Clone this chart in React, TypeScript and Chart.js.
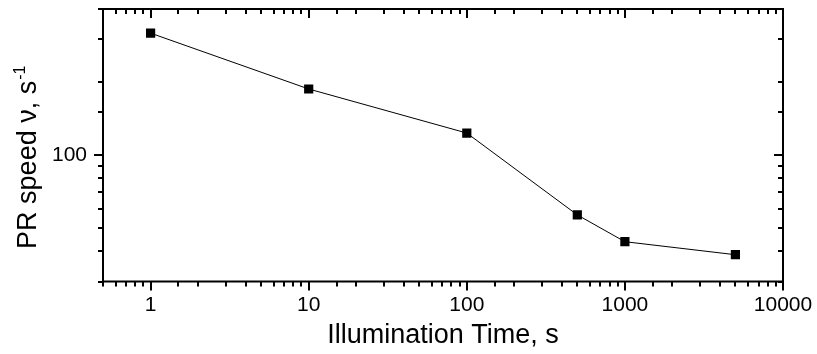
import React, { useEffect, useRef } from 'react';
import { Chart, registerables } from 'chart.js';

Chart.register(...registerables);

// ---- data ----
const illuminationTime = [1, 10, 100, 500, 1000, 5000];
const prSpeed = [318, 187, 123, 56.5, 43.8, 38.7];
const xLabelledTicks = [1, 10, 100, 1000, 10000];
const yLabelledTicks = [100];
const xRange = [0.5, 10000];
const yRange = [30, 400];
const xTitle = 'Illumination Time, s';
const yTitleMain = 'PR speed \u03bd, s';
const yTitleSup = '-1';

const FONT = '"Liberation Sans", Arial, Helvetica, sans-serif';

function isDecade(v: number) {
  const l = Math.log10(v);
  return Math.abs(l - Math.round(l)) < 1e-9;
}

function near(list: number[], v: number) {
  return list.some((t) => Math.abs(t - v) / t < 1e-9);
}

const framePlugin = {
  id: 'originFrame',
  afterDatasetsDraw(chart: any) {
    const { ctx, chartArea: a, scales } = chart;
    const xs = scales.x;
    const ys = scales.y;
    ctx.save();
    ctx.strokeStyle = '#000';
    ctx.lineWidth = 2;
    ctx.strokeRect(a.left, a.top, a.right - a.left, a.bottom - a.top);
    ctx.beginPath();
    for (const t of xs.ticks) {
      const px = Math.round(xs.getPixelForValue(t.value));
      const len = isDecade(t.value) ? 9 : 5;
      ctx.moveTo(px, a.bottom);
      ctx.lineTo(px, a.bottom + len);
      ctx.moveTo(px, a.top);
      ctx.lineTo(px, a.top + len);
    }
    for (const t of ys.ticks) {
      const py = Math.round(ys.getPixelForValue(t.value));
      const len = isDecade(t.value) ? 9 : 5;
      ctx.moveTo(a.left, py);
      ctx.lineTo(a.left - len, py);
      ctx.moveTo(a.right, py);
      ctx.lineTo(a.right - len, py);
    }
    ctx.stroke();

    // y-axis title with superscript
    ctx.fillStyle = '#000';
    ctx.font = `27px ${FONT}`;
    const w1 = ctx.measureText(yTitleMain).width;
    ctx.font = `16px ${FONT}`;
    const w2 = ctx.measureText(yTitleSup).width;
    const total = w1 + w2 + 1;
    const cy = (a.top + a.bottom) / 2 + 12;
    ctx.translate(36, cy);
    ctx.rotate(-Math.PI / 2);
    ctx.textAlign = 'left';
    ctx.textBaseline = 'alphabetic';
    ctx.font = `27px ${FONT}`;
    ctx.fillText(yTitleMain, -total / 2, 0);
    ctx.font = `16px ${FONT}`;
    ctx.fillText(yTitleSup, -total / 2 + w1 + 1, -11);
    ctx.restore();
  },
};

function zeroPadding(s: any) {
  s.paddingLeft = 0;
  s.paddingRight = 0;
  s.paddingTop = 0;
  s.paddingBottom = 0;
}

export default function App() {
  const ref = useRef<HTMLCanvasElement | null>(null);

  useEffect(() => {
    if (!ref.current) return;
    const chart = new Chart(ref.current, {
      type: 'line',
      data: {
        datasets: [
          {
            data: illuminationTime.map((x, i) => ({ x, y: prSpeed[i] })),
            borderColor: '#000',
            borderWidth: 1,
            backgroundColor: '#000',
            pointStyle: 'rect',
            pointRadius: 6.5,
            pointBorderWidth: 0,
            pointBackgroundColor: '#000',
            tension: 0,
          },
        ],
      },
      options: {
        responsive: false,
        animation: false,
        devicePixelRatio: 1,
        layout: { padding: { top: 9, right: 34, left: 0, bottom: 0 } },
        plugins: {
          legend: { display: false },
          tooltip: { enabled: false },
        },
        scales: {
          x: {
            type: 'logarithmic',
            min: xRange[0],
            max: xRange[1],
            grid: { display: false, drawTicks: false },
            border: { display: false },
            ticks: {
              autoSkip: false,
              maxRotation: 0,
              minRotation: 0,
              padding: 11,
              color: '#000',
              font: { family: FONT, size: 21 },
              callback: (v: any) => (near(xLabelledTicks, Number(v)) ? String(Number(v)) : ''),
            },
            title: {
              display: true,
              text: xTitle,
              color: '#000',
              font: { family: FONT, size: 27 },
              padding: { top: 2, bottom: 2 },
            },
            afterFit: (s: any) => {
              s.height = 72.5;
              zeroPadding(s);
            },
          },
          y: {
            type: 'logarithmic',
            min: yRange[0],
            max: yRange[1],
            grid: { display: false, drawTicks: false },
            border: { display: false },
            ticks: {
              autoSkip: false,
              padding: 16,
              color: '#000',
              font: { family: FONT, size: 21 },
              callback: (v: any) => (near(yLabelledTicks, Number(v)) ? String(Number(v)) : ''),
            },
            afterFit: (s: any) => {
              s.width = 103;
              zeroPadding(s);
            },
          },
        },
      },
      plugins: [framePlugin],
    });
    return () => chart.destroy();
  }, []);

  return (
    <div style={{ position: 'absolute', left: 0, top: 0, width: 817, height: 354, background: '#fff' }}>
      <canvas ref={ref} width={817} height={354} style={{ display: 'block' }} />
    </div>
  );
}
